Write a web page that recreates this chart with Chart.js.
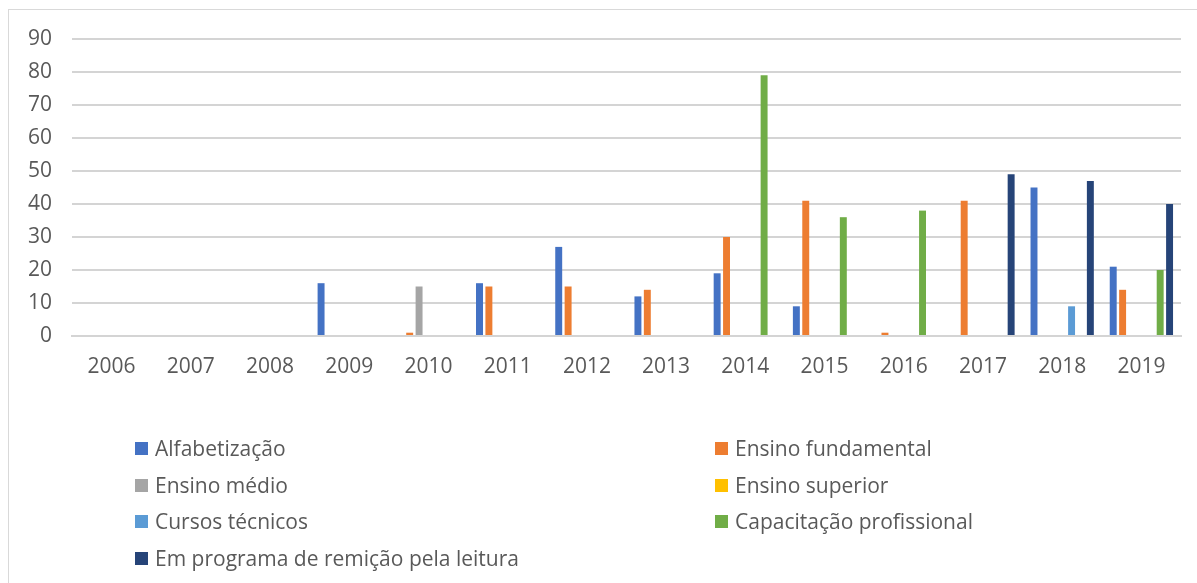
<!DOCTYPE html>
<html>
<head>
<meta charset="utf-8">
<script src="https://cdn.jsdelivr.net/npm/chart.js@4/dist/chart.umd.min.js"></script>
<style>
  html, body { margin: 0; padding: 0; background: #fff; width: 1197px; height: 583px; overflow: hidden; }
  #frame { position: absolute; left: 8px; top: 9px; width: 1300px; height: 700px; border-left: 1.5px solid #D9D9D9; border-top: 1.5px solid #D9D9D9; }
  #wrap { position: absolute; left: 0; top: 0; width: 1197px; height: 583px; }
  #legend { position: absolute; left: 0; top: 0; width: 1197px; height: 583px; pointer-events: none;
            font-family: "Open Sans", sans-serif; font-size: 21px; color: #595959; }
  .item { position: absolute; display: flex; align-items: center; white-space: nowrap; height: 30px; }
  .sw { width: 13px; height: 13px; margin-right: 7px; flex: none; }
</style>
</head>
<body>
<div id="frame"></div>
<div id="wrap"><canvas id="c" width="1197" height="583"></canvas></div>
<div id="legend"></div>
<script>
const categories = ["2006","2007","2008","2009","2010","2011","2012","2013","2014","2015","2016","2017","2018","2019"];
const seriesNames = ["Alfabetização","Ensino fundamental","Ensino médio","Ensino superior","Cursos técnicos","Capacitação profissional","Em programa de remição pela leitura"];
const seriesColors = ["#4472C4","#ED7D31","#A5A5A5","#FFC000","#5B9BD5","#70AD47","#264478"];
const alfabetizacao      = [0,0,0,16,0,16,27,12,19,9,0,0,45,21];
const ensinoFundamental  = [0,0,0,0,1,15,15,14,30,41,1,41,0,14];
const ensinoMedio        = [0,0,0,0,15,0,0,0,0,0,0,0,0,0];
const ensinoSuperior     = [0,0,0,0,0,0,0,0,0,0,0,0,0,0];
const cursosTecnicos     = [0,0,0,0,0,0,0,0,0,0,0,0,9,0];
const capacitacao        = [0,0,0,0,0,0,0,0,79,36,38,0,0,20];
const remicaoLeitura     = [0,0,0,0,0,0,0,0,0,0,0,49,47,40];
const yTicks = [0,10,20,30,40,50,60,70,80,90];

const seriesValues = [alfabetizacao, ensinoFundamental, ensinoMedio, ensinoSuperior, cursosTecnicos, capacitacao, remicaoLeitura];

const datasets = seriesNames.map((name, i) => ({
  label: name,
  data: seriesValues[i],
  backgroundColor: seriesColors[i],
  borderWidth: 0,
  categoryPercentage: 0.83,
  barPercentage: 0.74
}));

const font = { family: "'Open Sans', sans-serif", size: 21 };

new Chart(document.getElementById('c'), {
  type: 'bar',
  data: { labels: categories, datasets },
  options: {
    responsive: false,
    animation: false,
    events: [],
    layout: { padding: { left: 8, top: 39, right: 16, bottom: 187 } },
    plugins: { legend: { display: false }, tooltip: { enabled: false } },
    scales: {
      x: {
        grid: { display: false, drawTicks: false },
        border: { display: true, color: '#D4D4D4', width: 2 },
        ticks: { color: '#595959', font, padding: 18, maxRotation: 0, autoSkip: false },
        afterFit: s => { s.height = 60; }
      },
      y: {
        min: 0, max: 90,
        afterBuildTicks: s => { s.ticks = yTicks.map(v => ({ value: v })); },
        grid: { color: '#D4D4D4', lineWidth: 2, drawTicks: false },
        border: { display: false },
        ticks: { color: '#595959', font, padding: 20 },
        afterFit: s => { s.width = 64; }
      }
    }
  }
});

// HTML legend, two columns
const legend = document.getElementById('legend');
const colX = [135, 715];
const rowY = [448, 485, 521, 558];
seriesNames.forEach((name, i) => {
  const col = i % 2, row = Math.floor(i / 2);
  const el = document.createElement('div');
  el.className = 'item';
  el.style.left = colX[col] + 'px';
  el.style.top = (rowY[row] - 15) + 'px';
  const sw = document.createElement('span');
  sw.className = 'sw';
  sw.style.background = seriesColors[i];
  const tx = document.createElement('span');
  tx.textContent = name;
  el.appendChild(sw); el.appendChild(tx);
  legend.appendChild(el);
});
</script>
</body>
</html>
